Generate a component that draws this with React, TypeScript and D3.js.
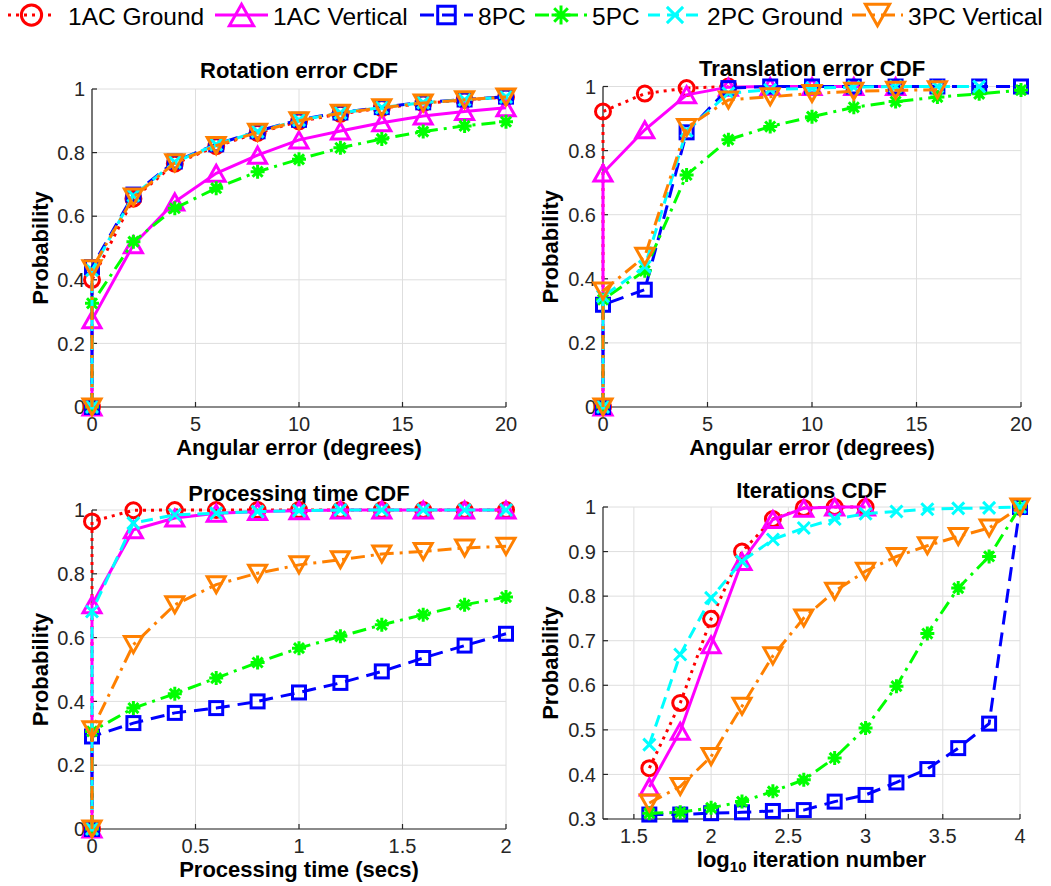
import React from 'react';
import * as d3 from 'd3';

const FONT = '"Liberation Sans", Arial, Helvetica, sans-serif';
const AXIS = '#262626';
const GRID = '#dedede';

// series styling (legend order == draw order)
const seriesNames = ['1AC Ground', '1AC Vertical', '8PC', '5PC', '2PC Ground', '3PC Vertical'];
const seriesColors = ['#ff0000', '#ff00ff', '#0000ff', '#00ff00', '#00ffff', '#ff8000'];
const seriesDash = ['3,5', 'none', '14,8', '14,6,3,6', '12,7', '14,6,3,6'];
const seriesMarker = ['circle', 'triangleUp', 'square', 'asterisk', 'cross', 'triangleDown'];

// Rotation error CDF
const rotX = [0, 0, 2, 4, 6, 8, 10, 12, 14, 16, 18, 20];
const rot1ACGround = [0, 0.40, 0.655, 0.765, 0.82, 0.862, 0.898, 0.922, 0.94, 0.955, 0.965, 0.975];
const rot1ACVertical = [0, 0.274, 0.51, 0.645, 0.735, 0.792, 0.84, 0.868, 0.894, 0.915, 0.929, 0.941];
const rot8PC = [0, 0.44, 0.668, 0.772, 0.826, 0.867, 0.903, 0.926, 0.943, 0.958, 0.967, 0.976];
const rot5PC = [0, 0.326, 0.52, 0.625, 0.688, 0.74, 0.779, 0.815, 0.843, 0.866, 0.884, 0.897];
const rot2PCGround = [0, 0.43, 0.665, 0.77, 0.825, 0.866, 0.902, 0.925, 0.942, 0.957, 0.966, 0.975];
const rot3PCVertical = [0, 0.435, 0.66, 0.768, 0.822, 0.864, 0.9, 0.924, 0.941, 0.956, 0.966, 0.975];

// Translation error CDF
const trX = [0, 0, 2, 4, 6, 8, 10, 12, 14, 16, 18, 20];
const tr1ACGround = [0, 0.922, 0.978, 0.995, 1.0];
const tr1ACVertical = [0, 0.73, 0.865, 0.974, 0.998, 1, 1, 1, 1];
const tr8PC = [0, 0.319, 0.366, 0.857, 0.995, 1, 1, 1, 1, 1, 1, 1];
const tr5PC = [0, 0.335, 0.425, 0.724, 0.834, 0.875, 0.906, 0.935, 0.953, 0.967, 0.977, 0.989];
const tr2PCGround = [0, 0.345, 0.438, 0.862, 0.979, 0.99, 0.995, 0.998, 1, 1, 1];
const tr3PCVertical = [0, 0.362, 0.47, 0.872, 0.958, 0.968, 0.978, 0.985, 0.988, 0.99];

// Processing time CDF
const prX = [0, 0, 0.2, 0.4, 0.6, 0.8, 1.0, 1.2, 1.4, 1.6, 1.8, 2.0];
const pr1ACGround = [0, 0.964, 0.999, 1, 1, 1, 1, 1, 1, 1, 1, 1];
const pr1ACVertical = [0, 0.703, 0.938, 0.975, 0.99, 0.995, 0.998, 1, 1, 1, 1, 1];
const pr8PC = [0, 0.29, 0.332, 0.364, 0.379, 0.40, 0.428, 0.458, 0.494, 0.536, 0.575, 0.612];
const pr5PC = [0, 0.306, 0.379, 0.424, 0.473, 0.522, 0.567, 0.604, 0.64, 0.672, 0.703, 0.727];
const pr2PCGround = [0, 0.682, 0.959, 0.985, 0.99, 0.995, 0.998, 1, 1, 1, 1, 1];
const pr3PCVertical = [0, 0.311, 0.578, 0.703, 0.766, 0.802, 0.828, 0.844, 0.862, 0.87, 0.881, 0.886];

// Iterations CDF
const itX = [1.6, 1.8, 2.0, 2.2, 2.4, 2.6, 2.8, 3.0, 3.2, 3.4, 3.6, 3.8, 4.0];
const it1ACGround = [0.414, 0.56, 0.749, 0.9, 0.973, 0.998, 1, 1];
const it1ACVertical = [0.372, 0.497, 0.691, 0.878, 0.972, 0.997, 1, 1];
const it8PC = [0.31, 0.31, 0.313, 0.315, 0.318, 0.32, 0.339, 0.354, 0.382, 0.412, 0.459, 0.514, 1.0];
const it5PC = [0.313, 0.315, 0.325, 0.339, 0.362, 0.388, 0.437, 0.504, 0.598, 0.716, 0.818, 0.889, 1.0];
const it2PCGround = [0.467, 0.669, 0.796, 0.878, 0.927, 0.953, 0.973, 0.985, 0.99, 0.995, 0.997, 0.998, 1.0];
const it3PCVertical = [0.336, 0.373, 0.44, 0.553, 0.666, 0.751, 0.811, 0.856, 0.889, 0.913, 0.934, 0.953, 1.0];

const panels = [
  {
    title: 'Rotation error CDF', xLabel: 'Angular error (degrees)',
    box: { left: 92, right: 506, top: 89, bottom: 407 }, titleY: 78, yLabelX: 48,
    xDomain: [0, 20], yDomain: [0, 1],
    xTicks: [0, 5, 10, 15, 20], yTicks: [0, 0.2, 0.4, 0.6, 0.8, 1],
    x: rotX, series: [rot1ACGround, rot1ACVertical, rot8PC, rot5PC, rot2PCGround, rot3PCVertical],
  },
  {
    title: 'Translation error CDF', xLabel: 'Angular error (degrees)',
    box: { left: 603, right: 1021, top: 86.5, bottom: 407 }, titleY: 76, yLabelX: 558,
    xDomain: [0, 20], yDomain: [0, 1],
    xTicks: [0, 5, 10, 15, 20], yTicks: [0, 0.2, 0.4, 0.6, 0.8, 1],
    x: trX, series: [tr1ACGround, tr1ACVertical, tr8PC, tr5PC, tr2PCGround, tr3PCVertical],
  },
  {
    title: 'Processing time CDF', xLabel: 'Processing time (secs)',
    box: { left: 92, right: 506, top: 510, bottom: 829 }, titleY: 501, yLabelX: 48,
    xDomain: [0, 2], yDomain: [0, 1],
    xTicks: [0, 0.5, 1, 1.5, 2], yTicks: [0, 0.2, 0.4, 0.6, 0.8, 1],
    x: prX, series: [pr1ACGround, pr1ACVertical, pr8PC, pr5PC, pr2PCGround, pr3PCVertical],
  },
  {
    title: 'Iterations CDF', xLabel: 'log10',
    box: { left: 603, right: 1020, top: 507, bottom: 819 }, titleY: 498, yLabelX: 558,
    xDomain: [1.3, 4], yDomain: [0.3, 1],
    xTicks: [1.5, 2, 2.5, 3, 3.5, 4], yTicks: [0.3, 0.4, 0.5, 0.6, 0.7, 0.8, 0.9, 1],
    x: itX, series: [it1ACGround, it1ACVertical, it8PC, it5PC, it2PCGround, it3PCVertical],
  },
];

const fmt = (v: number) => String(+v.toFixed(2));

function Marker({ type, x, y, color, s = 1 }: any) {
  const common = { fill: 'none', stroke: color, strokeWidth: 3 };
  if (type === 'circle') return <circle cx={x} cy={y} r={7.5 * s} {...common} />;
  if (type === 'square') return <rect x={x - 6.5 * s} y={y - 6.5 * s} width={13 * s} height={13 * s} {...common} />;
  if (type === 'triangleUp') {
    const w = 9 * s, h = 8 * s;
    return <path d={`M${x},${y - h}L${x + w},${y + h}L${x - w},${y + h}Z`} {...common} strokeLinejoin="miter" />;
  }
  if (type === 'triangleDown') {
    const w = 9 * s, h = 8 * s;
    return <path d={`M${x},${y + h}L${x + w},${y - h}L${x - w},${y - h}Z`} {...common} strokeLinejoin="miter" />;
  }
  if (type === 'cross') {
    const r = 6 * s;
    return <path d={`M${x - r},${y - r}L${x + r},${y + r}M${x - r},${y + r}L${x + r},${y - r}`} {...common} />;
  }
  // asterisk: + and x combined
  const r = 7 * s, d = r * 0.72;
  return (
    <path
      d={`M${x - r},${y}L${x + r},${y}M${x},${y - r}L${x},${y + r}M${x - d},${y - d}L${x + d},${y + d}M${x - d},${y + d}L${x + d},${y - d}`}
      {...common}
    />
  );
}

function Panel({ p }: any) {
  const { box } = p;
  const xScale = d3.scaleLinear().domain(p.xDomain).range([box.left, box.right]);
  const yScale = d3.scaleLinear().domain(p.yDomain).range([box.bottom, box.top]);
  const cx = (box.left + box.right) / 2;
  const cy = (box.top + box.bottom) / 2;

  return (
    <g>
      <text x={cx} y={p.titleY} textAnchor="middle" fontFamily={FONT} fontSize={22} fontWeight="bold" fill="#000">
        {p.title}
      </text>
      {/* grid */}
      {p.xTicks.map((t: number) => (
        <line key={'gx' + t} x1={xScale(t)} x2={xScale(t)} y1={box.top} y2={box.bottom} stroke={GRID} strokeWidth={1} />
      ))}
      {p.yTicks.map((t: number) => (
        <line key={'gy' + t} x1={box.left} x2={box.right} y1={yScale(t)} y2={yScale(t)} stroke={GRID} strokeWidth={1} />
      ))}
      {/* axes */}
      <line x1={box.left} x2={box.left} y1={box.top} y2={box.bottom} stroke={AXIS} strokeWidth={1.2} />
      <line x1={box.left} x2={box.right} y1={box.bottom} y2={box.bottom} stroke={AXIS} strokeWidth={1.2} />
      {p.xTicks.map((t: number) => (
        <g key={'tx' + t}>
          <line x1={xScale(t)} x2={xScale(t)} y1={box.bottom} y2={box.bottom - 5} stroke={AXIS} strokeWidth={1.2} />
          <text x={xScale(t)} y={box.bottom + 24} textAnchor="middle" fontFamily={FONT} fontSize={20} fill={AXIS}>
            {fmt(t)}
          </text>
        </g>
      ))}
      {p.yTicks.map((t: number) => (
        <g key={'ty' + t}>
          <line x1={box.left} x2={box.left + 5} y1={yScale(t)} y2={yScale(t)} stroke={AXIS} strokeWidth={1.2} />
          <text x={box.left - 7} y={yScale(t)} dy="0.36em" textAnchor="end" fontFamily={FONT} fontSize={20} fill={AXIS}>
            {fmt(t)}
          </text>
        </g>
      ))}
      {/* labels */}
      {p.xLabel === 'log10' ? (
        <text x={cx} y={box.bottom + 48} textAnchor="middle" fontFamily={FONT} fontSize={22} fontWeight="bold" fill="#000">
          log<tspan fontSize={15} dy={5}>10</tspan>
          <tspan dy={-5}> iteration number</tspan>
        </text>
      ) : (
        <text x={cx} y={box.bottom + 48} textAnchor="middle" fontFamily={FONT} fontSize={22} fontWeight="bold" fill="#000">
          {p.xLabel}
        </text>
      )}
      <text
        transform={`translate(${p.yLabelX},${cy}) rotate(-90)`}
        textAnchor="middle" fontFamily={FONT} fontSize={22} fontWeight="bold" fill="#000"
      >
        Probability
      </text>
      {/* series */}
      {p.series.map((vals: number[], i: number) => {
        const pts = vals.map((v, k) => [p.x[k], v] as [number, number]);
        const line = d3.line<[number, number]>().x(d => xScale(d[0])).y(d => yScale(d[1]));
        return (
          <g key={'s' + i}>
            <path
              d={line(pts) || ''}
              fill="none"
              stroke={seriesColors[i]}
              strokeWidth={3}
              strokeDasharray={seriesDash[i]}
            />
            {pts.map((d, k) => (
              <Marker key={k} type={seriesMarker[i]} x={xScale(d[0])} y={yScale(d[1])} color={seriesColors[i]} />
            ))}
          </g>
        );
      })}
    </g>
  );
}

// legend sample positions along the top row
const legendLine = [[8, 55], [215, 268], [420, 473], [535, 587], [648, 702], [852, 903]];
const legendTextX = [68, 273, 478, 592, 707, 908];

function Legend() {
  const y = 15;
  return (
    <g>
      {seriesNames.map((name, i) => {
        const [a, b] = legendLine[i];
        return (
          <g key={name}>
            <line x1={a} x2={b} y1={y} y2={y} stroke={seriesColors[i]} strokeWidth={3} strokeDasharray={seriesDash[i]} />
            <Marker type={seriesMarker[i]} x={(a + b) / 2} y={y} color={seriesColors[i]} s={1.35} />
            <text x={legendTextX[i]} y={25} fontFamily={FONT} fontSize={24.5} fill="#000">
              {name}
            </text>
          </g>
        );
      })}
    </g>
  );
}

export default function App() {
  return (
    <svg
      width={1051}
      height={886}
      style={{ position: 'absolute', left: 0, top: 0, background: '#fff' }}
    >
      <rect width={1051} height={886} fill="#fff" />
      {panels.map((p, i) => (
        <Panel key={i} p={p} />
      ))}
      <Legend />
    </svg>
  );
}
